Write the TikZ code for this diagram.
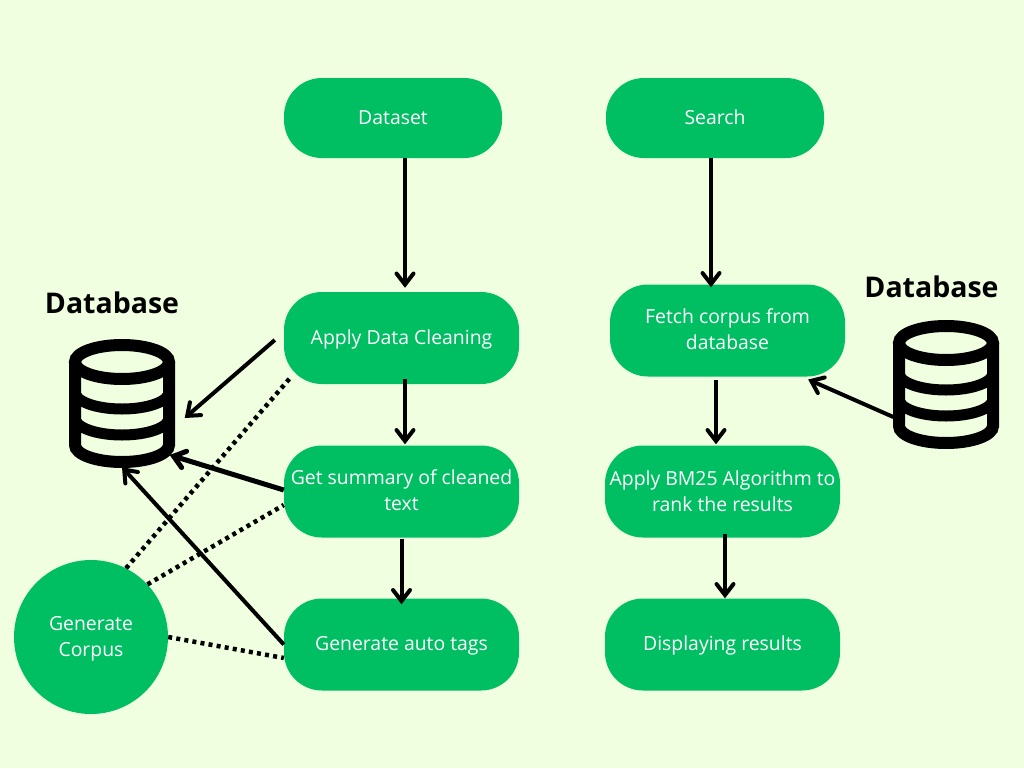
\documentclass[tikz,border=0pt]{standalone}
\usepackage{fontspec}
\setmainfont{Open Sans}
\usetikzlibrary{positioning, arrows.meta}
\definecolor{paleback}{HTML}{EFFFDF}
\definecolor{boxgreen}{HTML}{00BF63}

\begin{document}
\begin{tikzpicture}[x=1pt,y=-1pt,>={Straight Barb[length=11pt,width=17pt,line cap=round]},
    stepbox/.style={fill=boxgreen,text=white,rounded corners=38pt,inner sep=0pt,align=center,
      minimum width=235pt,minimum height=92pt,font=\fontsize{19.4}{26}\selectfont},
    oneline/.style={text height=14pt,text depth=2pt},
    flow/.style={->,line width=4pt,black},
    dotline/.style={line width=4.5pt,black,dash pattern=on 4pt off 4.2pt},
    heading/.style={font=\fontsize{28.5}{32}\selectfont\bfseries,inner sep=0pt},
    dbicon/.pic={
      \draw[line width=12pt] (0,0) ellipse[x radius=47,y radius=17];
      \draw[line width=12pt] (-47,0) -- (-47,83) arc[start angle=180,end angle=0,x radius=47,y radius=17] -- (47,0);
      \draw[line width=11pt] (-47,30) arc[start angle=180,end angle=0,x radius=47,y radius=17];
      \draw[line width=11pt] (-47,56) arc[start angle=180,end angle=0,x radius=47,y radius=17];
      \node[minimum width=105pt,minimum height=128pt,inner sep=0pt] (-box) at (0,41) {};
    }]
  \fill[paleback] (0,0) rectangle (1024,768);
  \useasboundingbox (0,0) rectangle (1024,768);
  % left column
  \node[stepbox,oneline,minimum width=218pt,minimum height=80pt] (dataset) at (393,118) {Dataset};
  \node[stepbox,oneline] (clean) at (401.5,338) {Apply Data Cleaning};
  \node[stepbox] (summary) at (401.5,491.5) {Get summary of cleaned\\text\rule[-2pt]{0pt}{2pt}};
  \node[stepbox,oneline] (tags) at (401.5,644.5) {Generate auto tags};
  % right column
  \node[stepbox,oneline,minimum width=218pt,minimum height=80pt] (search) at (715,118) {Search};
  \node[stepbox] (fetch) at (727.5,330.5) {Fetch corpus from\\database\rule[-2pt]{0pt}{2pt}};
  \node[stepbox] (bm) at (722.5,491.5) {Apply BM25 Algorithm to\\rank the results};
  \node[stepbox,oneline] (display) at (722.5,644.5) {Displaying results};
  % corpus circle
  \node[circle,fill=boxgreen,text=white,minimum size=154pt,inner sep=0pt,align=center,
        font=\fontsize{19.4}{26}\selectfont] (corpus) at (91,637) {\rule{0pt}{18.5pt}Generate\\Corpus};
  % databases
  \node[heading] (dbleftlabel) at (112,303) {Database};
  \node[heading] (dbrightlabel) at (931.5,287) {Database};
  \pic (dbleft) at (122,362) {dbicon};
  \pic (dbright) at (946,343) {dbicon};
  % arrows down
  \draw[flow] ([xshift=12pt]dataset.south) -- ([xshift=3.5pt,yshift=4pt]clean.north);
  \draw[flow] ([xshift=3.5pt,yshift=5pt]clean.south) -- ([xshift=3.5pt,yshift=1pt]summary.north);
  \draw[flow] ([yshift=-1pt]summary.south) -- ([yshift=-6pt]tags.north);
  \draw[flow] ([xshift=-4pt]search.south) -- ([xshift=-16.5pt,yshift=-3pt]fetch.north);
  \draw[flow] ([xshift=-11.5pt,yshift=-3pt]fetch.south) -- ([xshift=-6.5pt,yshift=1pt]bm.north);
  \draw[flow] ([xshift=2.5pt,yshift=4pt]bm.south) -- ([xshift=2.5pt]display.north);
  % arrows to and from the databases
  \draw[flow] ([xshift=-9pt,yshift=-2pt]clean.west) -- ([xshift=10pt,yshift=-15pt]dbleft-box.east);
  \draw[flow,line width=5pt] ([yshift=1.5pt]summary.west) -- ([xshift=-5pt,yshift=-52pt]dbleft-box.east);
  \draw[flow] (tags.west) -- (dbleft-box.south);
  \draw[flow] ([yshift=-33pt]dbright-box.west) -- ([xshift=-37pt,yshift=-49pt]fetch.east);
  % dotted lines to the corpus
  \draw[dotline] (corpus.63) -- ([xshift=8pt,yshift=-38pt]clean.west);
  \draw[dotline] (corpus.43) -- ([yshift=-13.5pt]summary.west);
  \draw[dotline] (corpus.0) -- ([yshift=-13.5pt]tags.west);
\end{tikzpicture}
\end{document}
